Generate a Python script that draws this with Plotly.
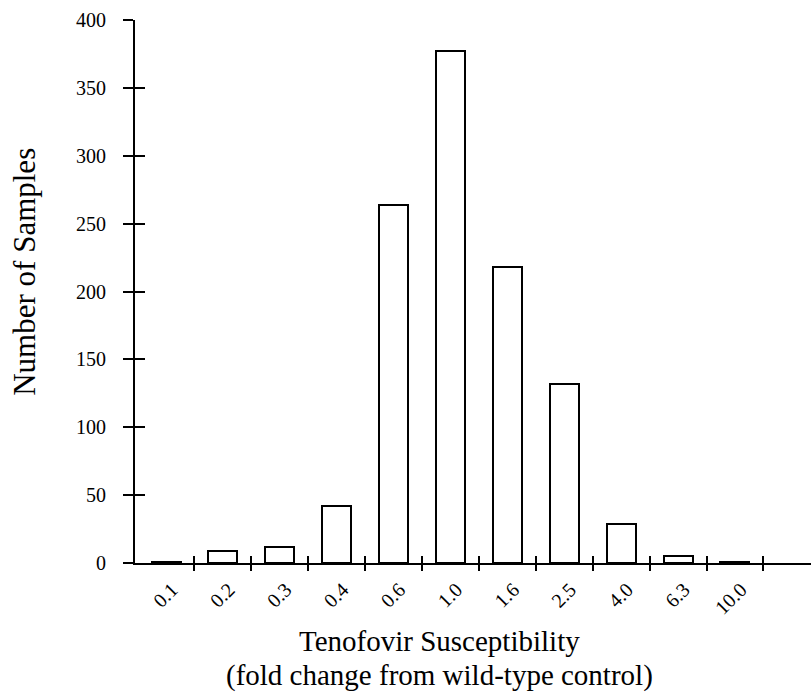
import plotly.graph_objects as go

categories = ["0.1", "0.2", "0.3", "0.4", "0.6", "1.0", "1.6", "2.5", "4.0", "6.3", "10.0"]
counts = [1, 9, 12, 42, 264, 377, 218, 132, 29, 5, 1]
y_ticks = [0, 50, 100, 150, 200, 250, 300, 350, 400]
x_title_lines = ["Tenofovir Susceptibility", "(fold change from wild-type control)"]
y_title = "Number of Samples"

positions = list(range(len(categories)))
boundaries = [p + 0.5 for p in positions]

FONT = "Liberation Serif, Times New Roman, serif"
XR = [-0.545, 11.336]
YR = [0, 400]

fig = go.Figure()
fig.add_trace(go.Bar(
    x=positions, y=counts, width=0.51,
    marker=dict(color="white", line=dict(color="black", width=2)),
    xaxis="x", yaxis="y", showlegend=False, hoverinfo="skip",
))
# helper invisible traces so overlay axes render
fig.add_trace(go.Scatter(x=[None], y=[None], xaxis="x2", yaxis="y", showlegend=False))
fig.add_trace(go.Scatter(x=[None], y=[None], xaxis="x3", yaxis="y", showlegend=False))
fig.add_trace(go.Scatter(x=[None], y=[None], xaxis="x", yaxis="y2", showlegend=False))

fig.update_layout(
    width=811, height=694,
    margin=dict(l=135, r=0, t=20, b=131),
    paper_bgcolor="white", plot_bgcolor="white",
    font=dict(family=FONT, color="black", size=18),
    bargap=0,
    xaxis=dict(
        range=XR, tickmode="array", tickvals=positions, ticktext=categories,
        tickangle=-45, ticks="", showgrid=False, zeroline=False,
        showline=True, linecolor="black", linewidth=2,
        tickfont=dict(family=FONT, size=20, color="black"),
        ticklabelshift=6, ticklabelstandoff=5,
    ),
    xaxis2=dict(
        range=XR, overlaying="x", anchor="y", side="bottom",
        tickmode="array", tickvals=boundaries, showticklabels=False,
        ticks="outside", ticklen=7, tickwidth=2, tickcolor="black",
        showgrid=False, zeroline=False, showline=False,
    ),
    xaxis3=dict(
        range=XR, overlaying="x", anchor="y", side="bottom",
        tickmode="array", tickvals=boundaries, showticklabels=False,
        ticks="inside", ticklen=7, tickwidth=2, tickcolor="black",
        showgrid=False, zeroline=False, showline=False,
    ),
    yaxis=dict(
        range=YR, tickmode="array", tickvals=y_ticks,
        ticks="outside", ticklen=10, tickwidth=2, tickcolor="black",
        showgrid=False, zeroline=False,
        showline=True, linecolor="black", linewidth=2,
        tickfont=dict(family=FONT, size=20, color="black"),
        ticklabelstandoff=13,
    ),
    yaxis2=dict(
        range=YR, overlaying="y", anchor="x", side="left",
        tickmode="array", tickvals=y_ticks, showticklabels=False,
        ticks="inside", ticklen=10, tickwidth=2, tickcolor="black",
        showgrid=False, zeroline=False, showline=False,
    ),
)

# axis titles (as text annotations for precise placement / line spacing)
fig.add_annotation(text=y_title, xref="paper", yref="paper", x=-0.163, y=0.536,
                   textangle=-90, showarrow=False, xanchor="center", yanchor="middle",
                   font=dict(family=FONT, size=31, color="black"))
fig.add_annotation(text=x_title_lines[0], xref="paper", yref="paper", x=0.45, y=-0.1105,
                   showarrow=False, xanchor="center", yanchor="top",
                   font=dict(family=FONT, size=29, color="black"))
fig.add_annotation(text=x_title_lines[1], xref="paper", yref="paper", x=0.45, y=-0.1731,
                   showarrow=False, xanchor="center", yanchor="top",
                   font=dict(family=FONT, size=29, color="black"))

fig.write_html("out.html")
